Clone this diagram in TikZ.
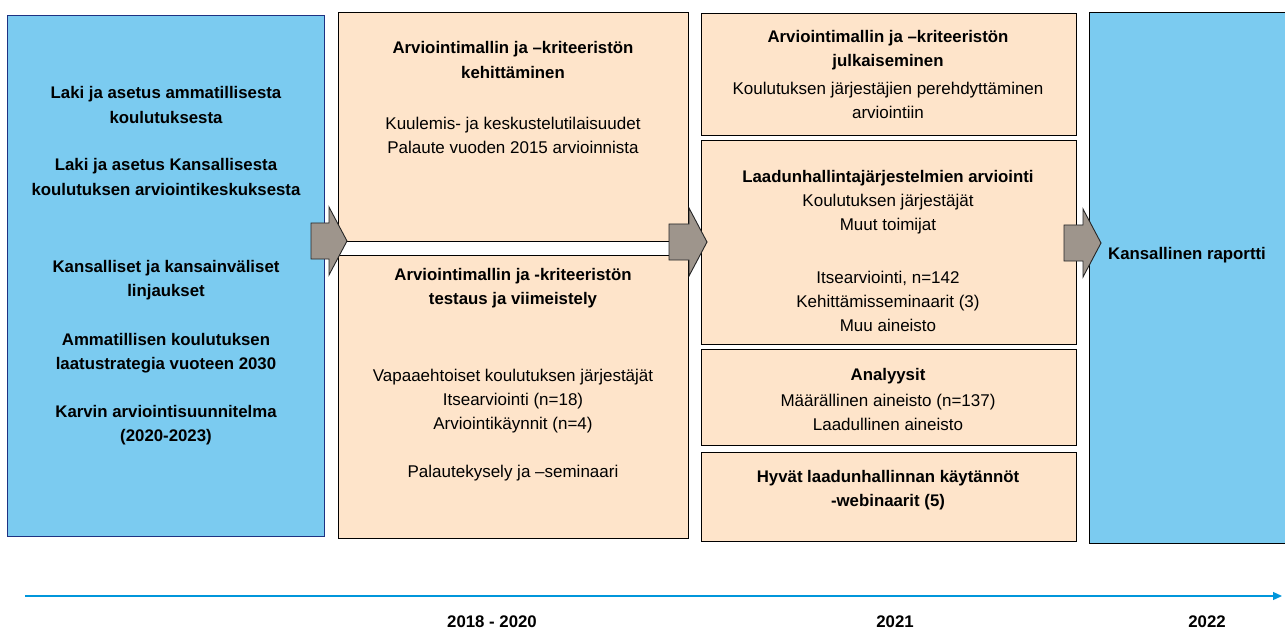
\documentclass[tikz,border=0pt]{standalone}
\usepackage{fontspec}
\setmainfont{Liberation Sans}
\usetikzlibrary{arrows.meta}
\definecolor{taivas}{RGB}{123,203,240}
\definecolor{persikka}{RGB}{254,228,202}
\definecolor{harmaa}{RGB}{158,149,140}
\definecolor{laivasto}{RGB}{30,50,130}
\definecolor{aikajana}{RGB}{0,150,219}
\newcommand{\Karvi}{\bfseries}
% block arrow: left end, head base, tip, centre
\newcommand{\blokarrow}[4]{%
  \draw[nuoli] (#1,#4+18) -- (#2,#4+18) -- (#2,#4+34) -- (#3,#4)
    -- (#2,#4-34) -- (#2,#4-18) -- (#1,#4-18) -- cycle;}

\begin{document}
\begin{tikzpicture}[x=1pt, y=-1pt,
  sininen/.style={draw=laivasto, line width=1.1pt, fill=taivas, anchor=north west, inner sep=0pt},
  laatikko/.style={draw=black, line width=1.1pt, fill=persikka, anchor=north west, inner sep=0pt},
  teksti/.style={align=center, font=\fontsize{17}{24}\selectfont, inner sep=0pt},
  otsikko/.style={teksti, font=\fontsize{16.8}{24.5}\selectfont\Karvi},
  nuoli/.style={draw=black!85, line width=0.9pt, fill=harmaa, line join=miter}]
%\draw [help lines] (0,0) grid (1285,631);
\useasboundingbox (0,0) rectangle (1285,631);

% Boxes
\node[sininen,  minimum width=317pt, minimum height=521pt] (lait)    at (7,15)    {};
\node[laatikko, minimum width=350pt, minimum height=229pt] (kehitys) at (338,12)  {};
\node[laatikko, minimum width=350pt, minimum height=283pt] (testaus) at (338,255) {};
\node[laatikko, minimum width=375pt, minimum height=122pt] (julkaisu) at (701,13) {};
\node[laatikko, minimum width=375pt, minimum height=204pt] (arviointi) at (701,140) {};
\node[laatikko, minimum width=375pt, minimum height=96pt]  (analyysi) at (701,349) {};
\node[laatikko, minimum width=375pt, minimum height=89pt]  (webinaari) at (701,452) {};
\node[sininen, draw=black, minimum width=200pt, minimum height=531pt] (raportti) at (1089,12) {};

% Arrows
\blokarrow{311}{329}{347}{241}
\blokarrow{669}{689}{707}{242}
\blokarrow{1064}{1083}{1101}{243}

% Texts
\node[otsikko] (laki1) at (166,105) {Laki ja asetus ammatillisesta\\koulutuksesta};
\node[otsikko] (laki2) at (166,177) {Laki ja asetus Kansallisesta\\koulutuksen arviointikeskuksesta};
\node[otsikko] (linja) at (166,280) {Kansalliset ja kansainväliset\\linjaukset};
\node[otsikko] (strat) at (166,353) {Ammatillisen koulutuksen\\laatustrategia vuoteen 2030};
\node[otsikko] (suunn) at (166,425) {Karvin arviointisuunnitelma\\(2020-2023)};

\node[otsikko] (kehot) at (513,60)  {Arviointimallin ja –kriteeristön\\kehittäminen};
\node[teksti]  (kuul)  at (513,135) {Kuulemis- ja keskustelutilaisuudet\\Palaute vuoden 2015 arvioinnista};
\node[otsikko] (tesot) at (513,288) {Arviointimallin ja -kriteeristön\\testaus ja viimeistely};
\node[teksti]  (vapa)  at (513,401) {Vapaaehtoiset koulutuksen järjestäjät\\Itsearviointi (n=18)\\Arviointikäynnit (n=4)};
\node[teksti]  (pala)  at (513,473) {Palautekysely ja –seminaari};

\node[otsikko] (julot) at (888,50)  {Arviointimallin ja –kriteeristön\\julkaiseminen};
\node[teksti]  (pere)  at (888,100) {Koulutuksen järjestäjien perehdyttäminen\\arviointiin};
\node[otsikko] (arvot) at (888,178) {Laadunhallintajärjestelmien arviointi};
\node[teksti]  (toim)  at (888,214) {Koulutuksen järjestäjät\\Muut toimijat};
\node[teksti]  (itse)  at (888,301) {Itsearviointi, n=142\\Kehittämisseminaarit (3)\\Muu aineisto};
\node[otsikko] (anaot) at (888,376) {Analyysit};
\node[teksti]  (aine)  at (888,412) {Määrällinen aineisto (n=137)\\Laadullinen aineisto};
\node[otsikko] (hyvat) at (888,490) {Hyvät laadunhallinnan käytännöt\\-webinaarit (5)};
\node[otsikko] (kans)  at (1187,255) {Kansallinen raportti};

% Timeline
\coordinate (alku) at (25,596);
\coordinate (loppu) at (1282,596);
\draw[aikajana, line width=1.3pt, -{Triangle[length=9pt, width=8pt]}] (alku) -- (loppu);
\node[otsikko] (v1) at (492,622) {2018 - 2020};
\node[otsikko] (v2) at (895,622) {2021};
\node[otsikko] (v3) at (1207,622) {2022};
\end{tikzpicture}
\end{document}
